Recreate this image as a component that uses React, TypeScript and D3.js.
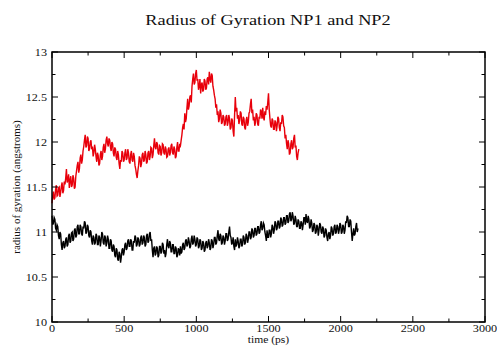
import React from "react";
import * as d3 from "d3";

const titleText = "Radius of Gyration NP1 and NP2";
const xLabel = "time (ps)";
const yLabel = "radius of gyration (angstroms)";
const sampleStepPs = 5;
const xTicks = [0, 500, 1000, 1500, 2000, 2500, 3000];
const xMinorTicks = [250, 750, 1250, 1750, 2250, 2750];
const yTicks = [10, 10.5, 11, 11.5, 12, 12.5, 13];
const yMinorTicks = [10.25, 10.75, 11.25, 11.75, 12.25, 12.75];

// NP1 (red), one value every 5 ps from 0 ps (20 values per 100 ps row)
const np1Values = [
  11.32, 11.4, 11.45, 11.36, 11.38, 11.47, 11.52, 11.4, 11.41, 11.49, 11.5, 11.39, 11.44, 11.51, 11.55, 11.43, 11.46, 11.56, 11.53, 11.6,
  11.7, 11.55, 11.58, 11.64, 11.49, 11.57, 11.62, 11.5, 11.52, 11.63, 11.6, 11.48, 11.5, 11.62, 11.68, 11.74, 11.78, 11.66, 11.7, 11.82,
  11.86, 11.76, 11.8, 11.9, 11.95, 12.02, 12.08, 11.94, 11.96, 12.06, 12.04, 11.9, 11.92, 12.0, 12.02, 11.92, 11.95, 11.84, 11.88, 11.97,
  11.92, 11.84, 11.78, 11.88, 11.85, 11.74, 11.76, 11.86, 11.9, 11.8, 11.84, 11.94, 11.98, 11.88, 11.92, 12.02, 12.06, 11.98, 11.95, 12.04,
  12.02, 11.94, 11.9, 12.0, 11.98, 11.88, 11.84, 11.94, 11.92, 11.83, 11.8, 11.9, 11.86, 11.76, 11.7, 11.8, 11.78, 11.9, 11.88, 11.78,
  11.8, 11.88, 11.92, 11.8, 11.82, 11.92, 11.88, 11.78, 11.76, 11.86, 11.9, 11.8, 11.78, 11.88, 11.84, 11.74, 11.7, 11.64, 11.6, 11.68,
  11.74, 11.84, 11.82, 11.72, 11.76, 11.86, 11.88, 11.78, 11.8, 11.9, 11.86, 11.76, 11.78, 11.88, 11.9, 11.8, 11.84, 11.94, 11.93, 11.82,
  11.86, 11.96, 12.04, 11.94, 11.92, 12.0, 11.98, 11.88, 11.86, 11.96, 11.95, 11.85, 11.88, 11.98, 11.97, 11.88, 11.86, 11.95, 11.92, 11.83,
  11.84, 11.92, 11.94, 11.85, 11.88, 11.96, 11.98, 11.88, 11.86, 11.95, 11.92, 11.82, 11.84, 11.94, 12.0, 11.9, 11.9, 11.98, 11.96, 12.02,
  12.08, 12.16, 12.2, 12.14, 12.32, 12.22, 12.26, 12.38, 12.48, 12.36, 12.4, 12.5, 12.52, 12.44, 12.62, 12.7, 12.76, 12.64, 12.66, 12.76,
  12.8, 12.68, 12.7, 12.58, 12.62, 12.7, 12.54, 12.64, 12.66, 12.56, 12.58, 12.7, 12.68, 12.58, 12.6, 12.7, 12.72, 12.64, 12.78, 12.7,
  12.66, 12.76, 12.74, 12.62, 12.58, 12.52, 12.48, 12.38, 12.42, 12.3, 12.34, 12.22, 12.26, 12.36, 12.32, 12.2, 12.22, 12.3, 12.28, 12.18,
  12.2, 12.28, 12.3, 12.18, 12.22, 12.3, 12.26, 12.14, 12.16, 12.26, 12.24, 12.12, 12.06, 12.3, 12.5, 12.34, 12.38, 12.26, 12.3, 12.2,
  12.24, 12.34, 12.32, 12.2, 12.18, 12.28, 12.26, 12.16, 12.14, 12.24, 12.28, 12.18, 12.22, 12.32, 12.34, 12.42, 12.48, 12.32, 12.36, 12.24,
  12.28, 12.18, 12.22, 12.32, 12.3, 12.2, 12.18, 12.28, 12.26, 12.36, 12.34, 12.26, 12.38, 12.28, 12.24, 12.34, 12.3, 12.4, 12.36, 12.44,
  12.54, 12.36, 12.26, 12.18, 12.16, 12.26, 12.24, 12.14, 12.14, 12.24, 12.22, 12.12, 12.18, 12.28, 12.26, 12.16, 12.12, 12.22, 12.2, 12.3,
  12.28, 12.18, 12.16, 12.04, 12.08, 11.98, 11.92, 12.02, 11.98, 11.86, 11.88, 11.98, 12.02, 11.92, 11.94, 12.04, 12.08, 11.94, 11.96, 11.84,
  11.8, 11.88, 11.92,
];

// NP2 (black), one value every 5 ps from 0 ps (20 values per 100 ps row)
const np2Values = [
  11.18, 11.08, 11.1, 11.16, 11.14, 11.04, 11.02, 11.08, 11.06, 10.96, 10.92, 11.0, 10.98, 10.86, 10.8, 10.88, 10.9, 10.82, 10.84, 10.92,
  10.94, 10.84, 10.86, 10.96, 10.98, 10.88, 10.9, 10.99, 11.0, 10.9, 10.92, 11.02, 11.04, 10.94, 10.96, 11.06, 11.08, 10.98, 10.98, 11.08,
  11.06, 10.98, 10.96, 11.06, 11.04, 11.12, 11.1, 10.98, 11.0, 11.08, 11.06, 10.96, 10.94, 11.02, 11.0, 10.9, 10.86, 10.96, 10.94, 10.86,
  10.88, 10.98, 10.96, 10.86, 10.86, 10.96, 10.94, 10.84, 10.9, 11.0, 10.98, 10.88, 10.86, 10.96, 10.94, 10.84, 10.88, 10.96, 10.92, 10.82,
  10.82, 10.92, 10.9, 10.8, 10.78, 10.86, 10.84, 10.74, 10.72, 10.82, 10.8, 10.7, 10.68, 10.78, 10.76, 10.66, 10.72, 10.8, 10.82, 10.74,
  10.78, 10.86, 10.88, 10.8, 10.82, 10.9, 10.92, 10.84, 10.84, 10.92, 10.9, 10.8, 10.8, 10.9, 10.88, 10.96, 10.94, 10.84, 10.86, 10.94,
  10.92, 10.84, 10.86, 10.94, 10.96, 10.86, 10.88, 10.96, 10.94, 10.84, 10.86, 10.96, 10.98, 10.88, 10.9, 10.98, 11.0, 10.9, 10.92, 10.8,
  10.72, 10.82, 10.84, 10.74, 10.76, 10.84, 10.82, 10.72, 10.74, 10.84, 10.84, 10.76, 10.78, 10.88, 10.86, 10.76, 10.8, 10.72, 10.76, 10.86,
  10.92, 10.84, 10.82, 10.9, 10.88, 10.78, 10.78, 10.86, 10.86, 10.76, 10.76, 10.84, 10.82, 10.72, 10.74, 10.82, 10.8, 10.74, 10.84, 10.76,
  10.78, 10.86, 10.88, 10.8, 10.82, 10.9, 10.92, 10.84, 10.86, 10.94, 10.9, 10.82, 10.84, 10.92, 10.96, 10.86, 10.88, 10.96, 10.92, 10.84,
  10.86, 10.94, 10.92, 10.82, 10.84, 10.92, 10.9, 10.8, 10.82, 10.9, 10.88, 10.78, 10.8, 10.88, 10.9, 10.82, 10.84, 10.92, 10.88, 10.8,
  10.82, 10.92, 10.9, 10.82, 10.86, 10.94, 10.94, 10.86, 10.88, 10.96, 11.02, 10.92, 10.9, 10.98, 10.96, 10.86, 10.88, 10.96, 10.94, 10.86,
  10.9, 10.98, 10.98, 10.9, 10.92, 11.0, 11.06, 10.96, 10.94, 10.86, 10.88, 10.94, 10.84, 10.8, 10.92, 10.84, 10.86, 10.94, 10.9, 10.82,
  10.84, 10.92, 10.92, 10.84, 10.86, 10.96, 10.94, 10.86, 10.88, 10.98, 10.96, 10.88, 10.92, 11.0, 11.0, 10.92, 10.94, 11.04, 11.02, 10.94,
  10.96, 11.04, 11.04, 10.96, 10.98, 11.06, 11.06, 10.98, 11.0, 11.08, 11.12, 11.02, 11.04, 11.1, 11.08, 11.0, 10.96, 10.9, 11.02, 10.94,
  10.94, 11.02, 11.02, 10.94, 10.98, 11.08, 11.06, 10.98, 11.02, 11.12, 11.1, 11.02, 11.04, 11.12, 11.12, 11.04, 11.06, 11.16, 11.14, 11.06,
  11.08, 11.16, 11.16, 11.08, 11.1, 11.18, 11.18, 11.1, 11.12, 11.2, 11.22, 11.12, 11.14, 11.22, 11.18, 11.08, 11.1, 11.18, 11.14, 11.06,
  11.06, 11.14, 11.12, 11.04, 11.04, 11.12, 11.1, 11.02, 11.08, 11.16, 11.16, 11.08, 11.2, 11.12, 11.1, 11.18, 11.14, 11.04, 11.06, 11.14,
  11.1, 11.0, 11.02, 11.1, 11.08, 10.98, 11.0, 11.08, 11.06, 10.96, 11.02, 11.1, 11.08, 11.0, 10.98, 11.06, 11.04, 10.94, 10.96, 11.04,
  11.02, 10.94, 10.9, 10.98, 11.0, 10.92, 10.96, 11.06, 11.04, 10.96, 10.98, 11.06, 11.08, 10.98, 11.0, 11.08, 11.06, 10.98, 11.02, 11.1,
  11.08, 10.98, 11.0, 11.08, 11.06, 10.98, 11.02, 11.12, 11.1, 11.18, 11.16, 11.06, 11.06, 11.14, 11.12, 11.0, 10.9, 10.98, 11.04, 10.96,
  10.98, 11.06, 11.1, 11.0, 11.04,
];

const W = 497;
const H = 347;
const plot = { left: 52, right: 485, top: 52, bottom: 322 };
const font = "'Liberation Serif', 'DejaVu Serif', serif";
const stretch = 1.22;

function SText(props: {
  x: number;
  y: number;
  size: number;
  anchor: "start" | "middle" | "end";
  children: React.ReactNode;
}) {
  return (
    <g transform={`translate(${props.x},${props.y}) scale(${stretch},1)`}>
      <text
        x={0}
        y={0}
        textAnchor={props.anchor}
        fontFamily={font}
        fontSize={props.size}
        fill="#111"
      >
        {props.children}
      </text>
    </g>
  );
}

export default function App() {
  const x = d3.scaleLinear().domain([0, 3000]).range([plot.left, plot.right]);
  const y = d3.scaleLinear().domain([10, 13]).range([plot.bottom, plot.top]);
  const line = d3
    .line<number>()
    .x((_, i) => x(i * sampleStepPs))
    .y((d) => y(d));

  const major = 6;
  const minor = 3.5;

  return (
    <svg
      width={W}
      height={H}
      style={{ position: "absolute", left: 0, top: 0, background: "#fff" }}
    >
      <rect x={0} y={0} width={W} height={H} fill="#fff" />
      <SText x={268} y={25} size={15} anchor="middle">
        {titleText}
      </SText>

      <path d={line(np2Values) || ""} fill="none" stroke="#000" strokeWidth={1.4} strokeLinejoin="miter" />
      <path d={line(np1Values) || ""} fill="none" stroke="#e8000b" strokeWidth={1.4} strokeLinejoin="miter" />

      <rect
        x={plot.left}
        y={plot.top}
        width={plot.right - plot.left}
        height={plot.bottom - plot.top}
        fill="none"
        stroke="#000"
        strokeWidth={1.5}
      />

      {xTicks.map((t) => (
        <g key={"xt" + t}>
          <line x1={x(t)} x2={x(t)} y1={plot.bottom} y2={plot.bottom - major} stroke="#000" />
          <line x1={x(t)} x2={x(t)} y1={plot.top} y2={plot.top + major} stroke="#000" />
          <SText x={x(t)} y={332} size={10} anchor="middle">
            {t}
          </SText>
        </g>
      ))}
      {xMinorTicks.map((t) => (
        <g key={"xm" + t}>
          <line x1={x(t)} x2={x(t)} y1={plot.bottom} y2={plot.bottom - minor} stroke="#000" />
          <line x1={x(t)} x2={x(t)} y1={plot.top} y2={plot.top + minor} stroke="#000" />
        </g>
      ))}
      {yTicks.map((t) => (
        <g key={"yt" + t}>
          <line x1={plot.left} x2={plot.left + major} y1={y(t)} y2={y(t)} stroke="#000" />
          <line x1={plot.right} x2={plot.right - major} y1={y(t)} y2={y(t)} stroke="#000" />
          <SText x={47} y={y(t) + 3.5} size={10} anchor="end">
            {t}
          </SText>
        </g>
      ))}
      {yMinorTicks.map((t) => (
        <g key={"ym" + t}>
          <line x1={plot.left} x2={plot.left + minor} y1={y(t)} y2={y(t)} stroke="#000" />
          <line x1={plot.right} x2={plot.right - minor} y1={y(t)} y2={y(t)} stroke="#000" />
        </g>
      ))}

      <SText x={(plot.left + plot.right) / 2} y={342.5} size={9.5} anchor="middle">
        {xLabel}
      </SText>
      <text
        transform={`translate(20, ${(plot.top + plot.bottom) / 2}) rotate(-90)`}
        textAnchor="middle"
        fontFamily={font}
        fontSize={11}
        fill="#111"
      >
        {yLabel}
      </text>
    </svg>
  );
}
